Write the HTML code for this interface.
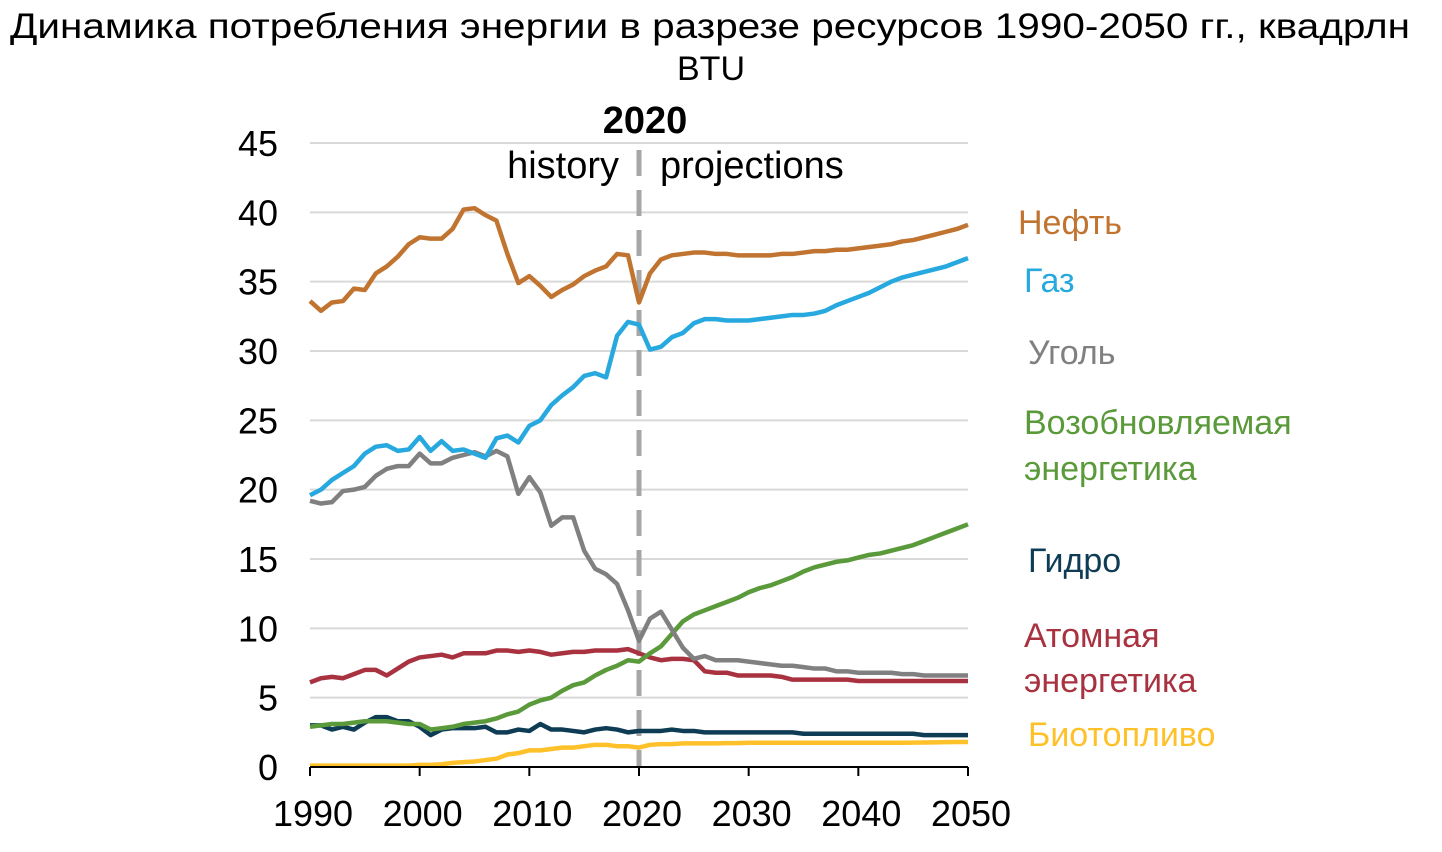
<!DOCTYPE html>
<html><head><meta charset="utf-8"><style>
body{margin:0;background:#fff;}
svg{display:block;font-family:"Liberation Sans","Noto Sans CJK SC",sans-serif;}
</style></head><body>
<svg id="chart" width="1442" height="852" viewBox="0 0 1442 852">
<text x="10" y="38" font-size="35" textLength="1400" lengthAdjust="spacingAndGlyphs">Динамика потребления энергии в разрезе ресурсов 1990-2050 гг., квадрлн</text>
<text x="711" y="80" text-anchor="middle" font-size="34">BTU</text>
<g id="grid"></g><g id="lines"></g><g id="axes"></g>
<text x="645" y="133" text-anchor="middle" font-size="38" font-weight="bold">2020</text>
<text x="619" y="178" text-anchor="end" font-size="38">history</text>
<text x="660" y="178" font-size="38">projections</text>
<g font-size="34">
<text x="1018" y="234" fill="#C07430">Нефть</text>
<text x="1024" y="292" fill="#27A9DF">Газ</text>
<text x="1028" y="364" fill="#808080">Уголь</text>
<text x="1024" y="434" fill="#5A9A3A">Возобновляемая</text>
<text x="1024" y="480" fill="#5A9A3A">энергетика</text>
<text x="1028" y="572" fill="#0E3C55">Гидро</text>
<text x="1024" y="647" fill="#A8323F">Атомная</text>
<text x="1024" y="692" fill="#A8323F">энергетика</text>
<text x="1028" y="746" fill="#FFC12A">Биотопливо</text>
</g>
</svg>
<script>
const years=[];for(let y=1990;y<=2050;y++)years.push(y);
const yTicks=[0,5,10,15,20,25,30,35,40,45];
const xTicks=[1990,2000,2010,2020,2030,2040,2050];
const oil=[33.6,32.9,33.5,33.6,34.5,34.4,35.6,36.1,36.8,37.7,38.2,38.1,38.1,38.8,40.2,40.3,39.8,39.4,37.0,34.9,35.4,34.7,33.9,34.4,34.8,35.4,35.8,36.1,37.0,36.9,33.5,35.6,36.6,36.9,37.0,37.1,37.1,37.0,37.0,36.9,36.9,36.9,36.9,37.0,37.0,37.1,37.2,37.2,37.3,37.3,37.4,37.5,37.6,37.7,37.9,38.0,38.2,38.4,38.6,38.8,39.1];
const gas=[19.6,20.0,20.7,21.2,21.7,22.6,23.1,23.2,22.8,22.9,23.8,22.8,23.5,22.8,22.9,22.6,22.3,23.7,23.9,23.4,24.6,25.0,26.1,26.8,27.4,28.2,28.4,28.1,31.1,32.1,31.9,30.1,30.3,31.0,31.3,32.0,32.3,32.3,32.2,32.2,32.2,32.3,32.4,32.5,32.6,32.6,32.7,32.9,33.3,33.6,33.9,34.2,34.6,35.0,35.3,35.5,35.7,35.9,36.1,36.4,36.7];
const coal=[19.2,19.0,19.1,19.9,20.0,20.2,21.0,21.5,21.7,21.7,22.6,21.9,21.9,22.3,22.5,22.7,22.4,22.8,22.4,19.7,20.9,19.8,17.4,18.0,18.0,15.6,14.3,13.9,13.2,11.3,9.1,10.7,11.2,9.9,8.6,7.8,8.0,7.7,7.7,7.7,7.6,7.5,7.4,7.3,7.3,7.2,7.1,7.1,6.9,6.9,6.8,6.8,6.8,6.8,6.7,6.7,6.6,6.6,6.6,6.6,6.6];
const renew=[2.9,3.0,3.1,3.1,3.2,3.3,3.3,3.3,3.2,3.1,3.1,2.7,2.8,2.9,3.1,3.2,3.3,3.5,3.8,4.0,4.5,4.8,5.0,5.5,5.9,6.1,6.6,7.0,7.3,7.7,7.6,8.2,8.7,9.6,10.5,11.0,11.3,11.6,11.9,12.2,12.6,12.9,13.1,13.4,13.7,14.1,14.4,14.6,14.8,14.9,15.1,15.3,15.4,15.6,15.8,16.0,16.3,16.6,16.9,17.2,17.5];
const nuclear=[6.1,6.4,6.5,6.4,6.7,7.0,7.0,6.6,7.1,7.6,7.9,8.0,8.1,7.9,8.2,8.2,8.2,8.4,8.4,8.3,8.4,8.3,8.1,8.2,8.3,8.3,8.4,8.4,8.4,8.5,8.2,7.9,7.7,7.8,7.8,7.7,6.9,6.8,6.8,6.6,6.6,6.6,6.6,6.5,6.3,6.3,6.3,6.3,6.3,6.3,6.2,6.2,6.2,6.2,6.2,6.2,6.2,6.2,6.2,6.2,6.2];
const hydro=[3.0,3.0,2.7,2.9,2.7,3.2,3.6,3.6,3.3,3.3,2.9,2.3,2.7,2.8,2.8,2.8,2.9,2.5,2.5,2.7,2.6,3.1,2.7,2.7,2.6,2.5,2.7,2.8,2.7,2.5,2.6,2.6,2.6,2.7,2.6,2.6,2.5,2.5,2.5,2.5,2.5,2.5,2.5,2.5,2.5,2.4,2.4,2.4,2.4,2.4,2.4,2.4,2.4,2.4,2.4,2.4,2.3,2.3,2.3,2.3,2.3];
const bio=[0.1,0.1,0.1,0.1,0.1,0.1,0.1,0.1,0.1,0.1,0.15,0.15,0.2,0.3,0.35,0.4,0.5,0.6,0.9,1.0,1.2,1.2,1.3,1.4,1.4,1.5,1.6,1.6,1.5,1.5,1.4,1.6,1.65,1.65,1.7,1.7,1.7,1.7,1.72,1.72,1.75,1.75,1.75,1.75,1.75,1.75,1.75,1.75,1.75,1.75,1.75,1.75,1.75,1.75,1.75,1.76,1.77,1.78,1.79,1.8,1.8];
const NS="http://www.w3.org/2000/svg";
const X=y=>310+(y-1990)*(658/60);
const Y=v=>767-v*(624/45);
function mk(tag,attrs,parent){const e=document.createElementNS(NS,tag);for(const k in attrs)e.setAttribute(k,attrs[k]);parent.appendChild(e);return e;}
const grid=document.getElementById('grid'),axes=document.getElementById('axes'),lines=document.getElementById('lines');
yTicks.forEach(t=>{
  if(t>0){const g=mk('line',{x1:310,x2:968,y1:Y(t),y2:Y(t),stroke:'#d9d9d9','stroke-width':2},grid);
  
  }
  const l=mk('text',{x:278,y:Y(t)+13,'text-anchor':'end','font-size':36},axes);l.textContent=t;
  
  
});
const ax=mk('line',{x1:310,x2:968,y1:767,y2:767,stroke:'#000','stroke-width':2},axes);


xTicks.forEach(t=>{
  const tk=mk('line',{x1:X(t),x2:X(t),y1:767,y2:776,stroke:'#000','stroke-width':2},axes);
  
  
  const l=mk('text',{x:X(t)+3,y:826,'text-anchor':'middle','font-size':36},axes);l.textContent=t;
  
  
});
const dv=mk('line',{x1:X(2020),x2:X(2020),y1:150,y2:767,stroke:'#a6a6a6','stroke-width':5,'stroke-dasharray':'26 14'},grid);


const series=[['bio',bio,'#FFC12A'],['hydro',hydro,'#0E3C55'],['nuclear',nuclear,'#A8323F'],['renewables',renew,'#5A9A3A'],['coal',coal,'#808080'],['gas',gas,'#27A9DF'],['oil',oil,'#C07430']];
series.forEach(([n,d,c])=>{
  const p=mk('polyline',{points:d.map((v,i)=>X(years[i])+','+Y(v)).join(' '),fill:'none',stroke:c,'stroke-width':4.5,'stroke-linejoin':'round'},lines);
  
  
});
</script>
</body></html>
